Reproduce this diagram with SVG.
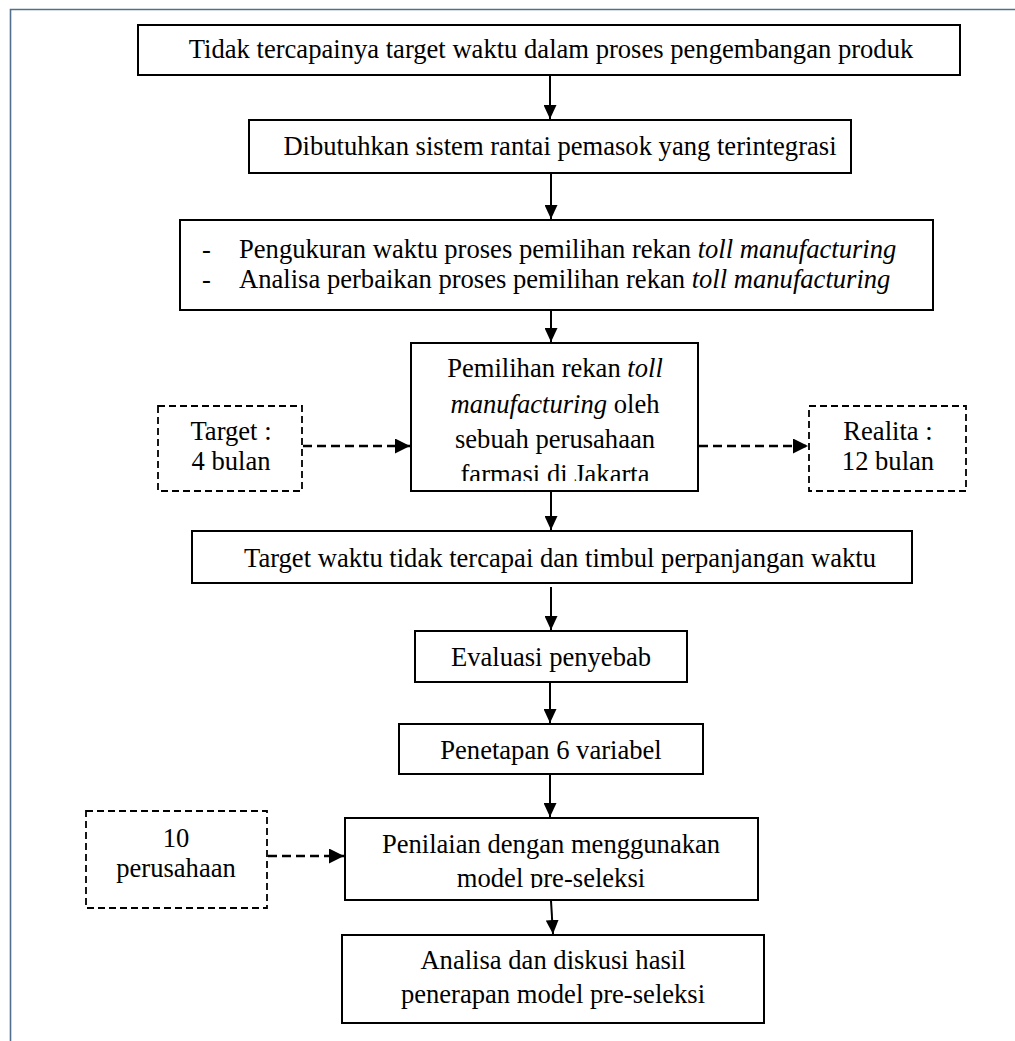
<svg xmlns="http://www.w3.org/2000/svg" width="1015" height="1041" viewBox="0 0 1015 1041">
<style>
.box{fill:#fff;stroke:#000;stroke-width:2}
.dbox{fill:#fff;stroke:#000;stroke-width:1.8;stroke-dasharray:7 4}
.t{font-family:"Liberation Serif","Times New Roman",serif;font-size:26.6px;fill:#000}
.c{text-anchor:middle}
.i{font-style:italic}
.ln{stroke:#000;stroke-width:2;fill:none}
.dl{stroke:#000;stroke-width:2.4;fill:none;stroke-dasharray:9 5}
.frame{stroke:#51708f;stroke-width:1.6;fill:none}
</style>
<defs>
<marker id="ah" markerUnits="userSpaceOnUse" viewBox="0 0 14 13" refX="14" refY="6.5" markerWidth="14" markerHeight="13" orient="auto">
<path d="M0,0 L14,6.5 L0,13 z" fill="#000"/>
</marker>
<marker id="ahd" markerUnits="userSpaceOnUse" viewBox="0 0 15 15" refX="15" refY="7.5" markerWidth="15" markerHeight="15" orient="auto">
<path d="M0,0 L15,7.5 L0,15 z" fill="#000"/>
</marker>
<clipPath id="clip4"><rect x="412" y="344" width="285" height="137"/></clipPath>
<clipPath id="clip8"><rect x="346" y="819" width="411" height="69"/></clipPath>
</defs>
<rect width="1015" height="1041" fill="#fff"/>
<path class="frame" d="M10.5,1041 L10.5,9.5 L1015,9.5"/>

<g id="n1">
<rect class="box" x="138" y="25" width="822" height="50"/>
<text class="t c" x="551" y="58">Tidak tercapainya target waktu dalam proses pengembangan produk</text>
</g>
<g id="n2">
<rect class="box" x="249" y="120" width="602" height="53"/>
<text class="t c" x="560" y="155">Dibutuhkan sistem rantai pemasok yang terintegrasi</text>
</g>
<g id="n3">
<rect class="box" x="180" y="220" width="753" height="90"/>
<text class="t" x="202" y="258">-</text>
<text class="t" x="239" y="258">Pengukuran waktu proses pemilihan rekan <tspan class="i">toll manufacturing</tspan></text>
<text class="t" x="202" y="288">-</text>
<text class="t" x="239" y="288">Analisa perbaikan proses pemilihan rekan <tspan class="i">toll manufacturing</tspan></text>
</g>
<g id="n4">
<rect class="box" x="411" y="343" width="287" height="148"/>
<g clip-path="url(#clip4)">
<text class="t c" x="555" y="377">Pemilihan rekan <tspan class="i">toll</tspan></text>
<text class="t c" x="555" y="413"><tspan class="i">manufacturing</tspan> oleh</text>
<text class="t c" x="555" y="448">sebuah perusahaan</text>
<text class="t c" x="555" y="483">farmasi di Jakarta</text>
</g>
</g>
<g id="n_target">
<rect class="dbox" x="158" y="406" width="144" height="85"/>
<text class="t c" x="231" y="440">Target :</text>
<text class="t c" x="231" y="470">4 bulan</text>
</g>
<g id="n_realita">
<rect class="dbox" x="809" y="406" width="157" height="85"/>
<text class="t c" x="888" y="440">Realita :</text>
<text class="t c" x="888" y="470">12 bulan</text>
</g>
<g id="n5">
<rect class="box" x="192" y="531" width="720" height="52"/>
<text class="t c" x="560" y="567">Target waktu tidak tercapai dan timbul perpanjangan waktu</text>
</g>
<g id="n6">
<rect class="box" x="415" y="631" width="272" height="51"/>
<text class="t c" x="551" y="666">Evaluasi penyebab</text>
</g>
<g id="n7">
<rect class="box" x="399" y="724" width="304" height="50"/>
<text class="t c" x="551" y="759">Penetapan 6 variabel</text>
</g>
<g id="n8">
<rect class="box" x="345" y="818" width="413" height="82"/>
<g clip-path="url(#clip8)">
<text class="t c" x="551" y="853">Penilaian dengan menggunakan</text>
<text class="t c" x="551" y="887">model pre-seleksi</text>
</g>
</g>
<g id="n_perusahaan">
<rect class="dbox" x="86" y="811" width="181" height="97"/>
<text class="t c" x="176" y="847">10</text>
<text class="t c" x="176" y="877">perusahaan</text>
</g>
<g id="n9">
<rect class="box" x="342" y="935" width="422" height="88"/>
<text class="t c" x="553" y="969">Analisa dan diskusi hasil</text>
<text class="t c" x="553" y="1003">penerapan model pre-seleksi</text>
</g>

<g id="connectors">
<line class="ln" x1="550" y1="76" x2="550" y2="119" marker-end="url(#ah)"/>
<line class="ln" x1="551" y1="174" x2="551" y2="219" marker-end="url(#ah)"/>
<line class="ln" x1="551" y1="311" x2="551" y2="342" marker-end="url(#ah)"/>
<line class="ln" x1="551" y1="492" x2="551" y2="530" marker-end="url(#ah)"/>
<line class="ln" x1="551" y1="587" x2="551" y2="630" marker-end="url(#ah)"/>
<line class="ln" x1="550" y1="683" x2="550" y2="723" marker-end="url(#ah)"/>
<line class="ln" x1="550" y1="775" x2="550" y2="817" marker-end="url(#ah)"/>
<line class="ln" x1="551" y1="901" x2="553" y2="934" marker-end="url(#ah)"/>
<line class="dl" x1="303" y1="446" x2="410" y2="446" marker-end="url(#ahd)"/>
<line class="dl" x1="699" y1="446" x2="808" y2="446" marker-end="url(#ahd)"/>
<line class="dl" x1="268" y1="856" x2="344" y2="856" marker-end="url(#ahd)"/>
</g>
</svg>
